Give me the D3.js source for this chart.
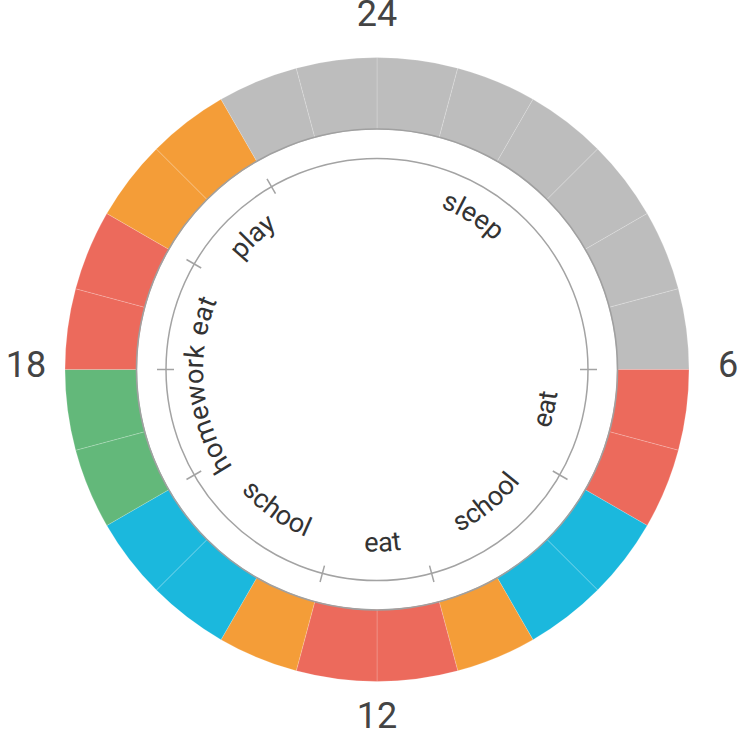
<!DOCTYPE html>
<html>
<head>
<meta charset="utf-8">
<script src="https://cdn.jsdelivr.net/npm/d3@7"></script>
<style>
  html, body { margin: 0; padding: 0; background: #fff; }
  svg { display: block; font-family: Roboto, "Noto Sans", sans-serif; }
</style>
</head>
<body>
<svg id="chart" width="740" height="729"></svg>
<script>
// ---- data ----
const hourActivities = ["sleep","sleep","sleep","sleep","sleep","sleep",
  "eat","eat","school","school","play","eat",
  "eat","play","school","school","homework","homework",
  "eat","eat","play","play","sleep","sleep"];
const activityNames = ["sleep","eat","school","play","homework"];
const activityColors = ["#bdbdbd","#ec6a5c","#1bb8dd","#f49d38","#63b87a"];

const scheduleNames = ["sleep","eat","school","eat","school","homework","eat","play"];
const scheduleStart = [22, 6, 8, 11, 13, 16, 18, 20];
const scheduleEnd   = [30, 8, 11, 13, 16, 18, 20, 22];

const hourLabels = ["24","6","12","18"];
const hourLabelPos = [0, 6, 12, 18];

// ---- layout ----
const cx = 377, cy = 369.5;
const rOuter = 312, rInner = 240;
const rCircle = 211;
const svg = d3.select("#chart");
const g = svg.append("g").attr("transform", `translate(${cx},${cy})`);

const angle = d3.scaleLinear().domain([0, 24]).range([0, 2 * Math.PI]);
const color = d3.scaleOrdinal().domain(activityNames).range(activityColors);

const arc = d3.arc().innerRadius(rInner).outerRadius(rOuter);

g.selectAll("path.seg")
  .data(hourActivities)
  .join("path")
  .attr("class", "seg")
  .attr("d", (d, i) => arc({startAngle: angle(i), endAngle: angle(i + 1)}))
  .attr("fill", d => color(d))
  .attr("stroke", "rgba(255,255,255,0.3)")
  .attr("stroke-width", 0.6);

// inner edge shadow line
g.append("circle").attr("r", rInner + 0.5)
  .attr("fill", "none").attr("stroke", "#a0a0a0").attr("stroke-width", 1.6);

// thin inner circle
g.append("circle").attr("r", rCircle)
  .attr("fill", "none").attr("stroke", "#a3a3a3").attr("stroke-width", 1.5);

// ticks at schedule boundaries
g.selectAll("line.tick")
  .data(scheduleEnd.map(h => h % 24))
  .join("line")
  .attr("class", "tick")
  .attr("x1", h => 203 * Math.sin(angle(h)))
  .attr("y1", h => -203 * Math.cos(angle(h)))
  .attr("x2", h => 220 * Math.sin(angle(h)))
  .attr("y2", h => -220 * Math.cos(angle(h)))
  .attr("stroke", "#a3a3a3").attr("stroke-width", 1.5);

// curved schedule labels (paths extended so long words fit, centred on segment)
const defs = svg.append("defs");
const ext = 3; // hours of extra path on each side
scheduleNames.forEach((name, i) => {
  const s = scheduleStart[i] - ext, e = scheduleEnd[i] + ext;
  const endDeg = (scheduleEnd[i] % 24) * 15;
  const flip = endDeg > 90 && endDeg < 270;
  const p = d3.path();
  const a0 = angle(s) - Math.PI / 2, a1 = angle(e) - Math.PI / 2;
  if (!flip) {
    const r = 174;
    p.moveTo(r * Math.cos(a0), r * Math.sin(a0));
    p.arc(0, 0, r, a0, a1, false);
  } else {
    const r = 182;
    p.moveTo(r * Math.cos(a1), r * Math.sin(a1));
    p.arc(0, 0, r, a1, a0, true);
  }
  defs.append("path").attr("id", "lp" + i)
    .attr("d", p.toString())
    .attr("transform", `translate(${cx},${cy})`);
  svg.append("text")
    .attr("font-size", 27)
    .attr("fill", "#333")
    .attr("text-anchor", "middle")
    .append("textPath")
    .attr("href", "#lp" + i)
    .attr("startOffset", "50%")
    .append("tspan")
    .attr("dx", 6)
    .text(name);
});

// hour labels
const rLabel = 351;
g.selectAll("text.hour")
  .data(hourLabels)
  .join("text")
  .attr("class", "hour")
  .attr("x", (d, i) => rLabel * Math.sin(angle(hourLabelPos[i])))
  .attr("y", (d, i) => -rLabel * Math.cos(angle(hourLabelPos[i])))
  .attr("dy", "0.2em")
  .attr("text-anchor", "middle")
  .attr("font-size", 36)
  .attr("fill", "#444")
  .text(d => d);
</script>
</body>
</html>
